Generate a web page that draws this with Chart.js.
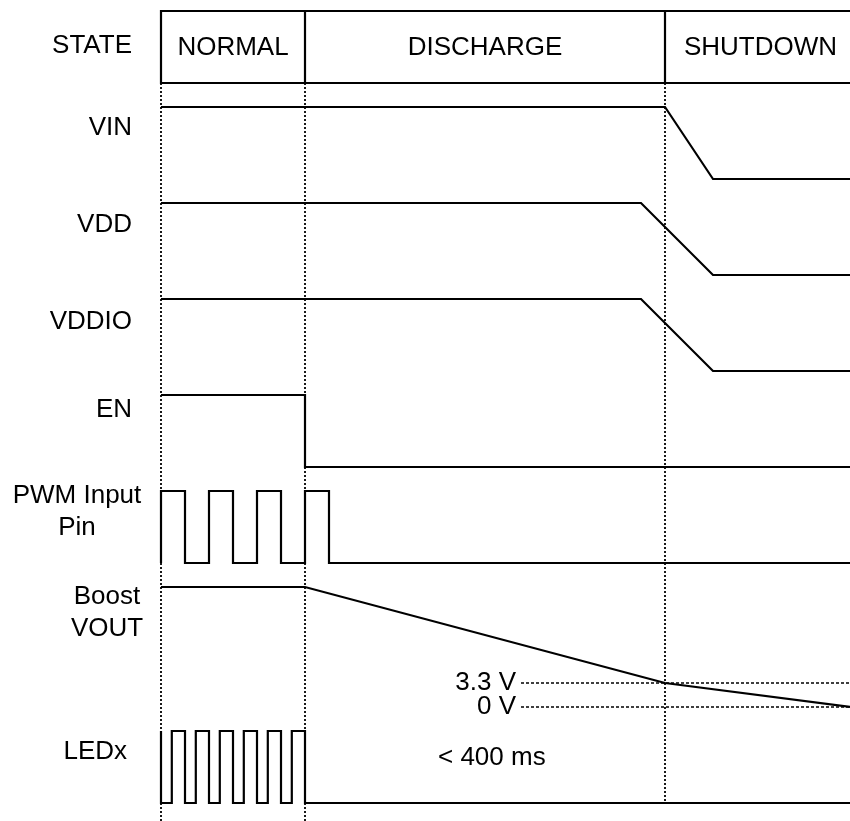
<!DOCTYPE html>
<html>
<head>
<meta charset="utf-8">
<script src="https://cdn.jsdelivr.net/npm/chart.js@4.4.1/dist/chart.umd.min.js"></script>
<style>
  html, body { margin: 0; background: #fff; }
  #wrap { width: 850px; height: 821px; }
</style>
</head>
<body>
<div id="wrap"><canvas id="timing" width="850" height="821"></canvas></div>
<script>
// time in arbitrary units (1 unit = half an LED period), levels 0 = low, 1 = high
const T_END = 57.5;
const stateNames = ['NORMAL', 'DISCHARGE', 'SHUTDOWN'];
const stateStart = [0, 12, 42];

const vinTime = [0, 42, 46, T_END];
const vinLevel = [1, 1, 0, 0];
const vddTime = [0, 40, 46, T_END];
const vddLevel = [1, 1, 0, 0];
const vddioTime = [0, 40, 46, T_END];
const vddioLevel = [1, 1, 0, 0];
const enTime = [0, 12, 12, T_END];
const enLevel = [1, 1, 0, 0];
const pwmTime = [0, 0, 2, 2, 4, 4, 6, 6, 8, 8, 10, 10, 12, 12, 14, 14, T_END];
const pwmLevel = [0, 1, 1, 0, 0, 1, 1, 0, 0, 1, 1, 0, 0, 1, 1, 0, 0];
const ledTime = [0, 0, 0.9, 0.9, 2, 2, 2.9, 2.9, 4, 4, 4.9, 4.9, 6, 6, 6.9, 6.9, 8, 8, 8.9, 8.9, 10, 10, 10.9, 10.9, 12, 12, T_END];
const ledLevel = [1, 0, 0, 1, 1, 0, 0, 1, 1, 0, 0, 1, 1, 0, 0, 1, 1, 0, 0, 1, 1, 0, 0, 1, 1, 0, 0];
const boostTime = [0, 12, 42, T_END];
const boostVolts = [16.5, 16.5, 3.3, 0];
const refVolts = [3.3, 0];
const refLabels = ['3.3 V', '0 V'];
const refStart = 30;
const noteText = '< 400 ms';

// layout
const W = 850, H = 821;
const X0 = 161, PX_PER_T = 12;
const HEAD_TOP = 11, HEAD_BOT = 83;
const SWING = 72;
const rowTop = { VIN: 107, VDD: 203, VDDIO: 299, EN: 395, PWM: 491, BOOST: 587, LED: 731 };
const BOOST_ZERO = 707, PX_PER_VOLT = 120 / 16.5;
const FONT = '26px "Liberation Sans", Arial, sans-serif';

const levelSeries = (times, levels, top) => times.map((t, i) => ({ x: t, y: top + SWING * (1 - levels[i]) }));
const voltY = v => BOOST_ZERO - v * PX_PER_VOLT;

const solid = { borderColor: '#000', borderWidth: 2.2, showLine: true, pointRadius: 0, tension: 0, clip: false, borderJoinStyle: 'miter' };
const dashed = { borderColor: '#000', borderWidth: 1.5, borderDash: [3, 2], showLine: true, pointRadius: 0, clip: false };

const datasets = [
  { label: 'VIN', data: levelSeries(vinTime, vinLevel, rowTop.VIN), ...solid },
  { label: 'VDD', data: levelSeries(vddTime, vddLevel, rowTop.VDD), ...solid },
  { label: 'VDDIO', data: levelSeries(vddioTime, vddioLevel, rowTop.VDDIO), ...solid },
  { label: 'EN', data: levelSeries(enTime, enLevel, rowTop.EN), ...solid },
  { label: 'PWM', data: levelSeries(pwmTime, pwmLevel, rowTop.PWM), ...solid },
  { label: 'LEDx', data: levelSeries(ledTime, ledLevel, rowTop.LED), ...solid },
  { label: 'Boost', data: boostTime.map((t, i) => ({ x: t, y: voltY(boostVolts[i]) })), ...solid },
  ...refVolts.map((v, i) => ({ label: refLabels[i], data: [{ x: refStart, y: voltY(v) }, { x: T_END, y: voltY(v) }], ...dashed, order: 5 }))
];

// signal names on the left: [lines, x, first line centre y, align]
const rowLabels = [
  [['STATE'], 132, 46, 'right'],
  [['VIN'], 132, 128, 'right'],
  [['VDD'], 132, 225, 'right'],
  [['VDDIO'], 132, 322, 'right'],
  [['EN'], 132, 410, 'right'],
  [['PWM Input', 'Pin'], 77, 496, 'center'],
  [['Boost', 'VOUT'], 107, 597, 'center'],
  [['LEDx'], 127, 752, 'right']
];

const diagramDecor = {
  id: 'diagramDecor',
  beforeDatasetsDraw(chart) {
    const { ctx, scales: { x } } = chart;
    ctx.save();
    ctx.strokeStyle = '#000';
    // dotted guides below the header
    ctx.lineWidth = 1.8;
    ctx.setLineDash([2, 2]);
    stateStart.forEach((t, i) => {
      const px = Math.round(x.getPixelForValue(t));
      ctx.beginPath();
      ctx.moveTo(px, HEAD_BOT);
      ctx.lineTo(px, i === 2 ? rowTop.LED + SWING : H);
      ctx.stroke();
    });
    ctx.setLineDash([]);
    // header box
    ctx.lineWidth = 2.2;
    const left = x.getPixelForValue(0);
    ctx.beginPath();
    ctx.moveTo(left, HEAD_TOP); ctx.lineTo(W, HEAD_TOP);
    ctx.moveTo(left, HEAD_BOT); ctx.lineTo(W, HEAD_BOT);
    stateStart.forEach(t => {
      const px = x.getPixelForValue(t);
      ctx.moveTo(px, HEAD_TOP - 1); ctx.lineTo(px, HEAD_BOT + 1);
    });
    ctx.stroke();
    ctx.restore();
  },
  afterDatasetsDraw(chart) {
    const { ctx, scales: { x } } = chart;
    ctx.save();
    ctx.fillStyle = '#000';
    ctx.font = FONT;
    ctx.textBaseline = 'middle';
    // state names centred in their header cells
    ctx.textAlign = 'center';
    stateNames.forEach((name, i) => {
      const a = x.getPixelForValue(stateStart[i]);
      const b = i < 2 ? x.getPixelForValue(stateStart[i + 1]) : 856;
      ctx.fillText(name, (a + b) / 2, (HEAD_TOP + HEAD_BOT) / 2 + 1);
    });
    rowLabels.forEach(([lines, lx, ly, align]) => {
      ctx.textAlign = align;
      lines.forEach((s, k) => ctx.fillText(s, lx, ly + k * 32));
    });
    ctx.textAlign = 'right';
    const refX = x.getPixelForValue(refStart) - 5;
    refVolts.forEach((v, i) => ctx.fillText(refLabels[i], refX, voltY(v)));
    ctx.textAlign = 'left';
    ctx.fillText(noteText, 438, 758);
    ctx.restore();
  }
};

new Chart(document.getElementById('timing'), {
  type: 'scatter',
  data: { datasets },
  options: {
    responsive: false,
    animation: false,
    layout: { padding: 0 },
    plugins: { legend: { display: false }, tooltip: { enabled: false } },
    scales: {
      x: { type: 'linear', display: false, min: -X0 / PX_PER_T, max: (W - X0) / PX_PER_T },
      y: { type: 'linear', display: false, min: 0, max: H, reverse: true }
    }
  },
  plugins: [diagramDecor]
});
</script>
</body>
</html>
